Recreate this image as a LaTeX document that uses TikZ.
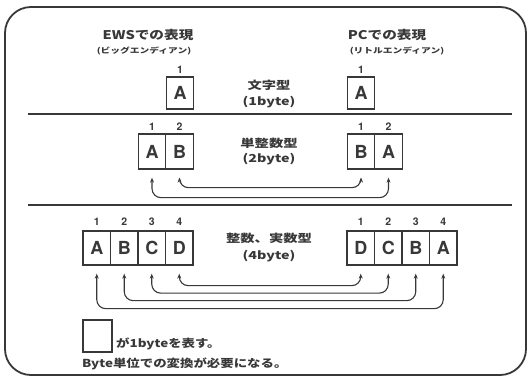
\documentclass[tikz,border=0pt]{standalone}
\usepackage{fontspec}
\usepackage{graphicx}
\setmainfont{TeX Gyre Heros}
\newfontfamily\jpf{Noto Sans CJK JP}
\usetikzlibrary{arrows.meta}
\newcommand\hstretch[2]{\scalebox{#1}[1]{#2}}
\definecolor{ink}{gray}{0.22}
\tikzset{
  frame/.style={draw=ink, line width=1.8pt, rounded corners=26pt},
  sep/.style={draw=ink, line width=1.8pt},
  cell/.style={draw=ink, line width=1.3pt, minimum width=27.5pt, minimum height=34pt, inner sep=0pt,
    font=\fontsize{18}{18}\selectfont\bfseries, text=ink},
  num/.style={inner sep=0pt, font=\fontsize{10.5}{10.5}\selectfont\bfseries, text=ink},
  hdr/.style={inner sep=0pt, font=\jpf\bfseries\fontsize{12}{12}\selectfont, text=ink},
  sub/.style={inner sep=0pt, font=\jpf\bfseries\fontsize{7.5}{7.5}\selectfont, text=ink},
  lbl/.style={inner sep=0pt, font=\jpf\bfseries\fontsize{11}{11}\selectfont, text=ink},
  note/.style={inner sep=0pt, anchor=west, font=\jpf\bfseries\fontsize{11}{11}\selectfont, text=ink},
  arr/.style={draw=ink, line width=1.1pt, rounded corners=9pt,
    {Stealth[length=5pt,width=4pt]}-{Stealth[length=5pt,width=4pt]}, shorten <=8pt, shorten >=8pt}
}
\begin{document}
\begin{tikzpicture}[x=1pt,y=-1pt]
\useasboundingbox (0,0) rectangle (529,378);
\draw[frame] (5,7) rectangle (526,375);
\coordinate (s1l) at (28,114); \coordinate (s1r) at (512,114);
\coordinate (s2l) at (28,205); \coordinate (s2r) at (512,205);
\draw[sep] (s1l) -- (s1r);
\draw[sep] (s2l) -- (s2r);
% headers
\node[hdr] (ews) at (148,35) {\hstretch{1.22}{EWSでの表現}};
\node[sub] (ewss) at (144,51) {\hstretch{1.3}{(ビッグエンディアン)}};
\node[hdr] (pc) at (387,35) {\hstretch{1.22}{PCでの表現}};
\node[sub] (pcs) at (397,51) {\hstretch{1.3}{(リトルエンディアン)}};
% 1 byte
\node[cell, minimum height=32pt] (l1a) at (180,93) {A};
\node[cell, minimum height=32pt] (r1a) at (361,93) {A};
\node[num] (nl1a) at (180,70) {1};
\node[num] (nr1a) at (361,70) {1};
\node[lbl] (t1) at (269,85) {\hstretch{1.3}{文字型}};
\node[lbl] (t1b) at (269,102) {\hstretch{1.3}{(1byte)}};
% 2 byte
\node[cell, minimum height=35pt] (l2a) at (152,151.5) {A};
\node[cell, minimum height=35pt] (l2b) at (179.5,151.5) {B};
\node[cell, minimum height=35pt] (r2b) at (361,151.5) {B};
\node[cell, minimum height=35pt] (r2a) at (388.5,151.5) {A};
\node[num] (nl2a) at (152,127) {1};
\node[num] (nl2b) at (179.5,127) {2};
\node[num] (nr2b) at (361,127) {1};
\node[num] (nr2a) at (388.5,127) {2};
\node[lbl] (t2) at (269,143) {\hstretch{1.3}{単整数型}};
\node[lbl] (t2b) at (269,159) {\hstretch{1.3}{(2byte)}};
\draw[arr] (l2b.south) -- ++(0,18) -| (r2b.south);
\draw[arr] (l2a.south) -- ++(0,28) -| (r2a.south);
% 4 byte
\node[cell] (l4a) at (96.75,248) {A};
\node[cell] (l4b) at (124.25,248) {B};
\node[cell] (l4c) at (151.75,248) {C};
\node[cell] (l4d) at (179.25,248) {D};
\node[cell] (r4d) at (360.75,248) {D};
\node[cell] (r4c) at (388.25,248) {C};
\node[cell] (r4b) at (415.75,248) {B};
\node[cell] (r4a) at (443.25,248) {A};
\node[num] (nl4a) at (96.75,222) {1};
\node[num] (nl4b) at (124.25,222) {2};
\node[num] (nl4c) at (151.75,222) {3};
\node[num] (nl4d) at (179.25,222) {4};
\node[num] (nr4d) at (360.75,222) {1};
\node[num] (nr4c) at (388.25,222) {2};
\node[num] (nr4b) at (415.75,222) {3};
\node[num] (nr4a) at (443.25,222) {4};
\node[lbl] (t4) at (269,238) {\hstretch{1.3}{整数、実数型}};
\node[lbl] (t4b) at (269,256) {\hstretch{1.3}{(4byte)}};
\draw[arr] (l4d.south) -- ++(0,20) -| (r4d.south);
\draw[arr] (l4c.south) -- ++(0,27.5) -| (r4c.south);
\draw[arr] (l4b.south) -- ++(0,35) -| (r4b.south);
\draw[arr] (l4a.south) -- ++(0,43) -| (r4a.south);
% legend
\node[draw=ink, line width=1.3pt, minimum width=29pt, minimum height=32pt, inner sep=0pt] (leg) at (97.5,336) {};
\node[note] (n1) at (116,344) {\hstretch{1.22}{が1byteを表す。}};
\node[note] (n2) at (82,364) {\hstretch{1.22}{Byte単位での変換が必要になる。}};
\end{tikzpicture}
\end{document}
